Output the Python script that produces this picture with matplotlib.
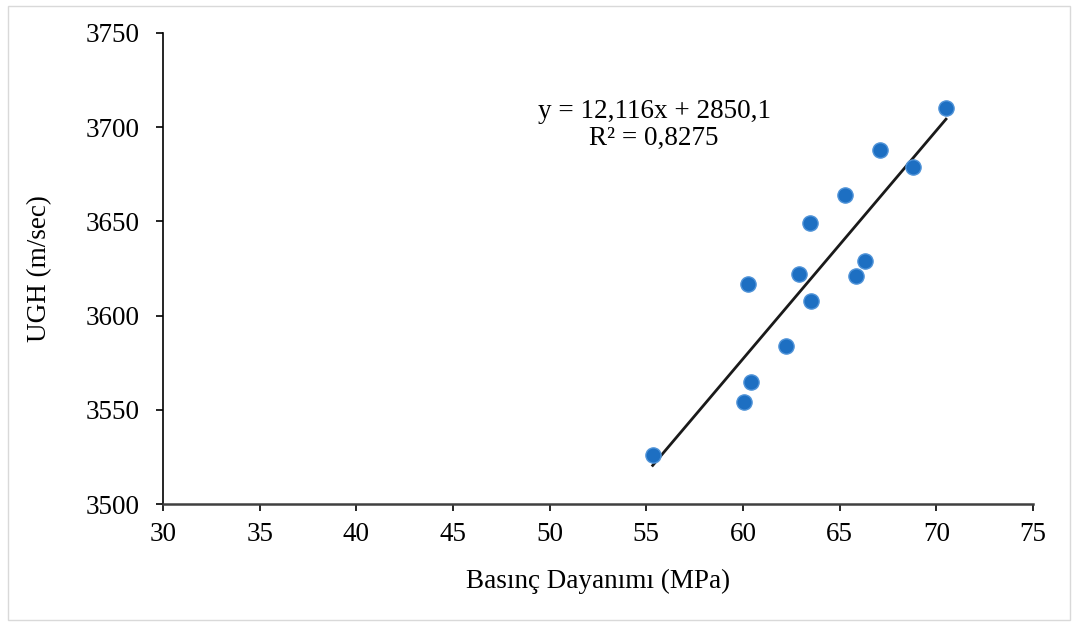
import matplotlib
matplotlib.use("Agg")
import matplotlib.pyplot as plt
from matplotlib.patches import Rectangle
import numpy as np

plt.rcParams['font.family'] = ['Liberation Serif', 'DejaVu Serif']

basinc = [55.33, 60.07, 60.42, 60.25, 62.2, 62.89, 63.44, 63.54, 65.26, 65.83, 66.32, 67.09, 68.8, 70.5]
ugh = [3526, 3554, 3565, 3617, 3584, 3622, 3649, 3608, 3664, 3621, 3629, 3688, 3679, 3710]
slope = 12.116
intercept = 2850.1
r2_text = "R² = 0,8275"
eq_text = "y = 12,116x + 2850,1"
x_ticks = [30, 35, 40, 45, 50, 55, 60, 65, 70, 75]
y_ticks = [3500, 3550, 3600, 3650, 3700, 3750]

W, H = 1077, 626
FS = 19.5
fig = plt.figure(figsize=(W / 100, H / 100), dpi=100)
ax = fig.add_axes([163 / W, 1 - 504 / H, (1033 - 163) / W, (504 - 33) / H])

ax.scatter(basinc, ugh, s=120, color='#1d6fc2', edgecolors='#4f93d8', linewidths=1.0, zorder=3)
xl = np.array([min(basinc), max(basinc)])
ax.plot(xl, slope * xl + intercept, color='#1a1a1a', lw=2.0, zorder=2)

ax.text(55.4, 3701, eq_text + "\n" + r2_text, ha='center', va='center', fontsize=FS,
        linespacing=1.1, color='black')

ax.set_xlim(30, 75)
ax.set_ylim(3500, 3750)
ax.set_xticks(x_ticks)
ax.set_yticks(y_ticks)
ax.tick_params(axis='both', direction='out', length=5, width=1.2, labelsize=FS, colors='black')
ax.tick_params(axis='y', pad=12)
ax.tick_params(axis='x', pad=8)
for s in ['top', 'right']:
    ax.spines[s].set_visible(False)
ax.spines['left'].set_linewidth(1.2)
ax.spines['left'].set_color('black')
ax.spines['bottom'].set_color('#404040')
ax.spines['bottom'].set_linewidth(1.8)

ax.set_xlabel("Basınç Dayanımı (MPa)", fontsize=FS, labelpad=16)
ax.set_ylabel("UGH (m/sec)", fontsize=FS, labelpad=24)

fig.patches.append(Rectangle((8 / W, 6 / H), (1070 - 8) / W, (620 - 6) / H,
                             transform=fig.transFigure, fill=False, edgecolor='#d9d9d9', lw=1.0))

fig.savefig("out.png", dpi=100)
